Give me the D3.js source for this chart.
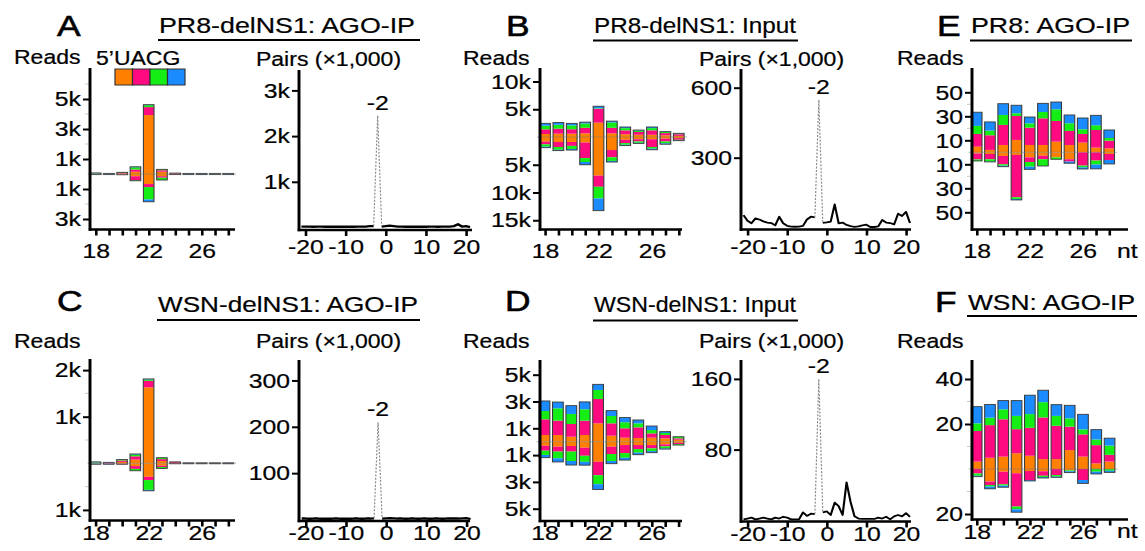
<!DOCTYPE html>
<html><head><meta charset="utf-8">
<script src="https://cdn.jsdelivr.net/npm/d3@7"></script>
<style>
body{margin:0;background:#fff;}
</style></head><body>
<svg id="c" width="1145" height="551"></svg>
<script>
// ---------------- DATA ----------------
const nts = [18,19,20,21,22,23,24,25,26,27,28];
const ntLabels = [18,22,26];
const bases = ["U","A","C","G"];
const baseColors = ["#ff8000","#ff0a80","#14ee14","#1a8cff"];
const offsets = [-21,-20,-19,-18,-17,-16,-15,-14,-13,-12,-11,-10,-9,-8,-7,-6,-5,-4,-3,-2,-1,0,1,2,3,4,5,6,7,8,9,10,11,12,13,14,15,16,17,18,19,20,21];
const offsetTicks = [-20,-10,0,10,20];

// Panel A: PR8-delNS1 AGO-IP (reads, thousands); rows = U, A, C, G
const aUp = [
  [0.02,0.00,0.04,0.15,3.93,0.15,0.03,0.00,0.00,0.00,0.00],
  [0.00,0.00,0.04,0.15,0.53,0.10,0.03,0.00,0.00,0.00,0.00],
  [0.03,0.00,0.03,0.15,0.13,0.06,0.00,0.00,0.00,0.02,0.00],
  [0.02,0.04,0.00,0.03,0.03,0.00,0.00,0.04,0.04,0.02,0.04]];
const aDown = [
  [0.00,0.00,0.03,0.15,0.67,0.15,0.02,0.00,0.00,0.00,0.00],
  [0.00,0.00,0.02,0.25,0.20,0.10,0.02,0.00,0.00,0.00,0.00],
  [0.02,0.00,0.00,0.05,0.83,0.15,0.00,0.00,0.00,0.02,0.00],
  [0.02,0.04,0.00,0.00,0.15,0.00,0.00,0.04,0.04,0.02,0.04]];
// Panel B: PR8-delNS1 Input (thousands)
const bUp = [
  [0.54,0.60,0.60,0.66,2.58,0.66,0.50,0.40,0.40,0.30,0.20],
  [0.84,0.90,0.80,1.00,2.50,1.00,0.70,0.50,0.80,0.40,0.30],
  [0.66,0.70,0.70,0.78,0.10,0.96,0.40,0.25,0.40,0.20,0.10],
  [0.42,0.40,0.35,0.24,0.36,0.24,0.20,0.10,0.20,0.06,0.06]];
const bDown = [
  [0.84,0.90,0.90,1.00,6.97,2.35,0.50,0.40,0.40,0.30,0.20],
  [0.48,0.90,0.70,2.80,2.00,1.30,0.60,0.40,1.40,0.50,0.30],
  [0.42,0.50,0.55,0.70,2.10,0.66,0.30,0.25,0.30,0.35,0.10],
  [0.18,0.15,0.20,0.50,2.20,0.20,0.15,0.10,0.20,0.15,0.06]];
// Panel C: WSN-delNS1 AGO-IP (thousands)
const cUp = [
  [0.01,0.00,0.03,0.08,1.63,0.05,0.01,0.00,0.00,0.00,0.00],
  [0.00,0.01,0.03,0.07,0.14,0.04,0.02,0.00,0.00,0.00,0.00],
  [0.01,0.00,0.02,0.04,0.03,0.03,0.00,0.00,0.00,0.00,0.00],
  [0.01,0.01,0.00,0.01,0.01,0.00,0.00,0.01,0.01,0.01,0.01]];
const cDown = [
  [0.00,0.00,0.01,0.06,0.29,0.05,0.00,0.00,0.00,0.00,0.00],
  [0.00,0.01,0.01,0.06,0.07,0.03,0.01,0.00,0.00,0.00,0.00],
  [0.01,0.00,0.00,0.04,0.21,0.03,0.00,0.00,0.00,0.00,0.00],
  [0.01,0.01,0.00,0.00,0.02,0.00,0.00,0.01,0.01,0.01,0.01]];
// Panel D: WSN-delNS1 Input (thousands)
const dUp = [
  [0.50,0.50,0.37,0.50,1.37,0.45,0.30,0.27,0.30,0.25,0.15],
  [1.17,1.07,0.95,1.07,1.82,0.92,0.70,0.80,0.32,0.25,0.10],
  [0.62,0.92,0.75,0.85,0.67,0.55,0.45,0.30,0.25,0.15,0.12],
  [0.75,0.47,0.62,0.55,0.42,0.40,0.35,0.25,0.30,0.10,0.00]];
const dDown = [
  [0.30,0.37,0.32,0.45,1.50,0.37,0.25,0.25,0.25,0.20,0.08],
  [0.37,0.37,0.42,0.60,1.00,0.55,0.60,0.30,0.25,0.15,0.10],
  [0.32,0.50,0.70,0.45,0.67,0.52,0.35,0.27,0.20,0.15,0.07],
  [0.20,0.27,0.30,0.25,0.40,0.20,0.17,0.15,0.12,0.05,0.00]];
// Panel E: PR8 AGO-IP (reads)
const eUp = [
  [4.7,2.0,6.1,10.3,6.1,6.1,8.9,6.1,8.1,3.9,3.3],
  [10.6,12.2,16.7,20.0,14.4,22.2,17.2,11.7,7.2,14.7,6.4],
  [6.7,3.9,8.3,2.2,3.6,5.3,9.7,6.4,3.9,3.9,2.2],
  [11.4,7.2,9.4,6.7,5.3,7.2,6.1,6.9,9.4,8.3,6.7]];
const eDown = [
  [1.0,1.4,3.0,2.2,4.2,2.8,4.2,5.8,0.0,0.0,1.4],
  [5.0,4.4,7.0,35.3,3.9,3.0,0.0,1.9,11.1,6.9,5.0],
  [1.2,1.9,1.2,1.4,3.9,5.6,1.6,0.0,1.4,3.3,0.0],
  [0.0,0.3,0.8,0.8,2.2,0.0,0.0,1.4,1.4,3.6,3.3]];
// Panel F: WSN AGO-IP (reads)
const fUp = [
  [3.3,5.0,5.5,7.0,5.9,4.4,4.4,8.4,5.5,2.5,3.3],
  [13.6,14.5,16.6,10.7,12.4,18.5,14.8,10.4,9.9,8.1,3.0],
  [3.4,3.3,4.4,5.9,6.1,6.8,4.4,3.7,2.2,2.5,4.1],
  [7.4,5.9,3.9,6.8,8.4,5.3,5.0,5.8,6.7,4.4,3.3]];
const fDown = [
  [0.0,5.6,1.2,1.9,0.9,1.0,0.0,0.6,0.0,0.0,0.0],
  [2.0,1.5,5.6,14.8,4.0,2.0,2.7,0.0,4.9,0.0,0.0],
  [1.0,0.7,0.6,1.2,0.0,0.6,0.7,0.4,0.0,1.2,0.8],
  [0.4,1.0,0.7,1.3,0.4,0.4,0.3,0.6,1.5,1.0,0.7]];

// Pair overlap distributions (×1,000 pairs)
const pairsA = [0.02,0.02,0.02,0.015,0.02,0.02,0.015,0.015,0.02,0.015,0.015,0.015,0.02,0.015,0.02,0.02,0.02,0.03,0.03,2.45,0.02,0.03,0.04,0.03,0.02,0.02,0.015,0.015,0.02,0.015,0.02,0.015,0.02,0.02,0.015,0.02,0.02,0.02,0.03,0.07,0.02,0.03,0.01];
const pairsB = [54,30,19,40,35,27,22,20,10,47,19,8,5,4,5,8,35,47,44,548,21,23,26,100,19,22,12,7,4,6,10,13,3,3,6,33,22,20,14,60,50,68,20];
const pairsC = [2,2,1.5,2,2,1.5,2,1.5,2,2,1.5,2,1.5,2,2,1.5,2,2,2.5,210,2,2.5,3,2.5,2,2,1.5,2,2,1.5,2,2,1.5,2,2,1.5,2,2,2,2,2.5,3,1];
const pairsD = [1,2,3,1,2,3,2,1,3,2,4,3,1,1,1,9,5,7.5,7,160,9,10,6,20,16,6,43,21,4.5,2,1.5,1.5,1.5,1.5,3,2,4,1,4.5,6,4.5,8,4];

// tick values
const ticksA = [-3,-1,1,3,5], minorA = [-2,2,4,6];
const ticksB = [-15,-10,-5,5,10];
const ticksC = [-1,1,2], minorC = [-0.5,0.5,1.5];
const ticksD = [-5,-3,-1,1,3,5];
const ticksE = [-50,-30,-10,10,30,50], minorE = [-40,-20,20,40];
const ticksF = [-20,20,40], minorF = [-10,10,30];
const pTicksA = [1,2,3], pTicksB = [300,600], pTicksC = [100,200,300], pTicksD = [80,160];

// ---------------- DRAW ----------------
const FONT = '"Liberation Sans", Arial, Helvetica, sans-serif';
const SX = 1.18;              // horizontal stretch of the figure
const X = v => v / SX;
const TS = 0.22;              // text stroke for slightly heavier glyphs
const svg = d3.select("#c");
svg.append("rect").attr("width",1145).attr("height",551).attr("fill","#fff");
const root = svg.append("g").attr("transform", `scale(${SX},1)`);

const kfmt = d => Math.abs(d) + "k";
const nfmt = d => String(Math.abs(d));
const hfmt = d => (d < 0 ? "-" : "") + Math.abs(d);

function text(s, x, y, size, opts = {}) {
  const t = root.append("text").attr("x", X(x)).attr("y", y)
    .attr("font-family", FONT).attr("font-size", size).attr("fill", "#000")
    .attr("stroke", "#000").attr("stroke-width", opts.sw != null ? opts.sw : TS)
    .attr("text-anchor", opts.anchor || "start").text(s);
  if (opts.len) t.attr("textLength", X(opts.len)).attr("lengthAdjust", "spacingAndGlyphs");
  return t;
}
function hline(x1, x2, y, w) {
  root.append("line").attr("x1", X(x1)).attr("x2", X(x2)).attr("y1", y).attr("y2", y)
    .attr("stroke", "#000").attr("stroke-width", w);
}
function styleTickText(sel) {
  sel.attr("fill", "#000").attr("stroke", "#000").attr("stroke-width", TS);
}

function axesCommon(g, c, y, ticks, fmt, minor) {
  if (minor) {
    g.selectAll("line.minor").data(minor).join("line")
      .attr("x1", X(c.axisX) - 5 / SX).attr("x2", X(c.axisX))
      .attr("y1", d => y(d)).attr("y2", d => y(d))
      .attr("stroke", "#c8c8c8").attr("stroke-width", 1);
  }
  const ya = d3.axisLeft(y).tickValues(ticks).tickFormat(fmt).tickSize(7 / SX).tickPadding(2 / SX);
  const yg = g.append("g").attr("transform", `translate(${X(c.axisX)},0)`).call(ya)
    .attr("font-family", FONT).attr("font-size", 21);
  yg.select(".domain").remove();
  yg.selectAll(".tick line").attr("stroke", "#000").attr("stroke-width", 2);
  styleTickText(yg.selectAll(".tick text"));
  g.append("line").attr("x1", X(c.axisX)).attr("x2", X(c.axisX)).attr("y1", c.top).attr("y2", c.axisY + 1.25)
    .attr("stroke", "#000").attr("stroke-width", 2.5);
  g.append("line").attr("x1", X(c.axisX) - 1.25 / SX).attr("x2", X(c.xEnd)).attr("y1", c.axisY).attr("y2", c.axisY)
    .attr("stroke", "#000").attr("stroke-width", 2.5);
}

function barPanel(c, up, down, ticks, fmt, minor) {
  const g = root.append("g");
  const x = d3.scaleLinear().domain([18, 26]).range([X(c.x18), X(c.x26)]);
  const y = d3.scaleLinear()
    .domain([(c.center - c.axisY) / c.ppu, (c.center - c.top) / c.ppu])
    .range([c.axisY, c.top]);
  const bw = x(18.4) - x(17.6);
  const segs = [], outlines = [];
  nts.forEach((nt, i) => {
    let cu = 0;
    bases.forEach((b, k) => { const v = up[k][i]; segs.push({nt, k, y0: cu, y1: cu + v}); cu += v; });
    let cd = 0;
    bases.forEach((b, k) => { const v = down[k][i]; segs.push({nt, k, y0: -cd, y1: -(cd + v)}); cd += v; });
    outlines.push({nt, top: cu, bot: -cd});
  });
  g.selectAll("rect.seg").data(segs.filter(s => s.y0 !== s.y1)).join("rect")
    .attr("x", d => x(d.nt) - bw / 2).attr("width", bw)
    .attr("y", d => Math.min(y(d.y0), y(d.y1)))
    .attr("height", d => Math.abs(y(d.y0) - y(d.y1)))
    .attr("fill", d => baseColors[d.k]);
  g.selectAll("rect.out").data(outlines).join("rect")
    .attr("x", d => x(d.nt) - bw / 2).attr("width", bw)
    .attr("y", d => y(d.top)).attr("height", d => Math.max(0.6, y(d.bot) - y(d.top)))
    .attr("fill", "none").attr("stroke", "#3a3a3a").attr("stroke-width", 0.9);
  g.append("line").attr("x1", x(17.4)).attr("x2", x(28.6)).attr("y1", y(0)).attr("y2", y(0))
    .attr("stroke", "#7a7a7a").attr("stroke-opacity", 0.55).attr("stroke-width", 1);
  axesCommon(g, c, y, ticks, fmt, minor);
  const xa = d3.axisBottom(x).tickValues(nts).tickFormat(d => ntLabels.includes(d) ? d : "").tickSize(6);
  const xg = g.append("g").attr("transform", `translate(0,${c.axisY})`).call(xa)
    .attr("font-family", FONT).attr("font-size", 21);
  xg.select(".domain").remove();
  xg.selectAll(".tick line").attr("stroke", "#000").attr("stroke-width", 2.2);
  styleTickText(xg.selectAll(".tick text").attr("y", c.labelBase - c.axisY).attr("dy", null));
}

function pairPanel(c, vals, ticks, fmt) {
  const g = root.append("g");
  const x = d3.scaleLinear().domain([-20, 20]).range([X(c.xm20), X(c.x20)]);
  const y = d3.scaleLinear().domain([0, (c.zero - c.top) / c.ppu]).range([c.zero, c.top]);
  axesCommon(g, c, y, ticks, fmt, null);
  const xa = d3.axisBottom(x).tickValues(offsetTicks).tickFormat(hfmt).tickSize(6);
  const xg = g.append("g").attr("transform", `translate(0,${c.axisY})`).call(xa)
    .attr("font-family", FONT).attr("font-size", 21);
  xg.select(".domain").remove();
  xg.selectAll(".tick line").attr("stroke", "#000").attr("stroke-width", 2.2);
  styleTickText(xg.selectAll(".tick text").attr("y", c.labelBase - c.axisY).attr("dy", null));

  const pts = offsets.map((o, i) => [o, vals[i]]);
  const line = d3.line().x(d => x(d[0])).y(d => y(d[1]));
  const left = pts.filter(d => d[0] <= -3), mid = pts.filter(d => d[0] >= -3 && d[0] <= -1),
        right = pts.filter(d => d[0] >= -1);
  [left, right].forEach(p => g.append("path").attr("d", line(p)).attr("fill", "none")
    .attr("stroke", "#000").attr("stroke-width", c.lw).attr("stroke-linejoin", "round"));
  g.append("path").attr("d", line(mid)).attr("fill", "none").attr("stroke", "#8a8a8a")
    .attr("stroke-width", 1).attr("stroke-dasharray", "2,1.5");
  const peak = pts.find(d => d[0] === -2);
  g.append("text").attr("x", x(-2)).attr("y", y(peak[1]) - 6).attr("text-anchor", "middle")
    .attr("font-family", FONT).attr("font-size", 21).attr("fill", "#000")
    .attr("stroke", "#000").attr("stroke-width", TS).text("-2");
}

// Bar panels
barPanel({axisX:90, top:68, axisY:229.5, center:174, ppu:15, x18:95.7, x26:201.7, xEnd:235, labelBase:258}, aUp, aDown, ticksA, kfmt, minorA);
barPanel({axisX:540, top:68, axisY:229.5, center:137, ppu:5.55, x18:545, x26:652, xEnd:682, labelBase:258}, bUp, bDown, ticksB, kfmt, null);
barPanel({axisX:90, top:359, axisY:520.5, center:463.3, ppu:46.6, x18:95.5, x26:201.7, xEnd:235, labelBase:539.5}, cUp, cDown, ticksC, kfmt, minorC);
barPanel({axisX:540, top:360, axisY:521, center:441.7, ppu:13.4, x18:544.5, x26:651.7, xEnd:682, labelBase:539.5}, dUp, dDown, ticksD, kfmt, null);
barPanel({axisX:972, top:68, axisY:229.5, center:152.3, ppu:1.2, x18:976.7, x26:1082.7, xEnd:1128, labelBase:258}, eUp, eDown, ticksE, nfmt, minorE);
barPanel({axisX:972, top:360, axisY:519.5, center:469, ppu:2.25, x18:976.7, x26:1083, xEnd:1128, labelBase:539}, fUp, fDown, ticksF, nfmt, minorF);

// Pair panels
pairPanel({axisX:299, top:70, zero:227.5, ppu:45.7, axisY:230, xm20:305.4, x20:466, xEnd:472, labelBase:254, lw:2.4}, pairsA, pTicksA, kfmt);
pairPanel({axisX:741, top:69, zero:227.7, ppu:70/300, axisY:229.5, xm20:747.5, x20:906, xEnd:911, labelBase:254, lw:1.8}, pairsB, pTicksB, nfmt);
pairPanel({axisX:299, top:360, zero:519.5, ppu:0.4635, axisY:521, xm20:305.7, x20:466.5, xEnd:470, labelBase:540.5, lw:2.4}, pairsC, pTicksC, nfmt);
pairPanel({axisX:741, top:360, zero:520.3, ppu:70.7/80, axisY:521.5, xm20:747.5, x20:906, xEnd:911, labelBase:540.5, lw:1.8}, pairsD, pTicksD, nfmt);

// Panel letters
[["A",57,36],["B",506,36],["C",57,311],["D",505,311],["E",937,36],["F",935,312]]
  .forEach(([s,x,y]) => text(s, x, y, 30, {sw: 0.6}));

// Titles with underline
[["PR8-delNS1: AGO-IP",159,33,256,158,420,40],
 ["PR8-delNS1: Input",594,33,202,593,798,40.5],
 ["WSN-delNS1: AGO-IP",158,312,260,157,420,320],
 ["WSN-delNS1: Input",594,312,202,593,798,320.5],
 ["PR8: AGO-IP",971,33,159,970,1132,40.5],
 ["WSN: AGO-IP",968,310,167,967,1137,316]]
  .forEach(([s,x,y,len,u1,u2,uy]) => { text(s, x, y, 22.5, {len}); hline(u1, u2, uy, 2); });

// Axis labels
[[14,64],[463,65],[14,348],[463,348],[897,65],[897,348]].forEach(([x,y]) => text("Reads", x, y, 19.5));
[[256,66],[699,66],[256,348],[699,348]].forEach(([x,y]) => text("Pairs (×1,000)", x, y, 19.5));
text("nt", 1117, 258, 21);
text("nt", 1117, 538, 21);

// Legend
text("5\u2019UACG", 96, 65, 19.5);
const lx = d3.scaleBand().domain(bases).range([X(115), X(185)]);
root.selectAll("rect.leg").data(bases).join("rect")
  .attr("x", d => lx(d)).attr("width", lx.bandwidth()).attr("y", 69).attr("height", 16)
  .attr("fill", (d, i) => baseColors[i]).attr("stroke", "#333").attr("stroke-width", 1);
</script>
</body></html>
